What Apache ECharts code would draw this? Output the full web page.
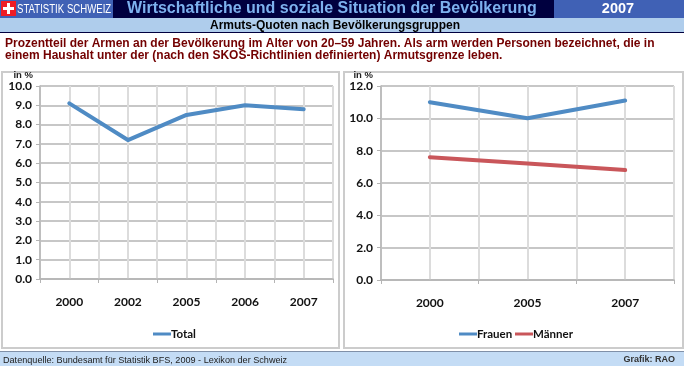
<!DOCTYPE html>
<html><head><meta charset="utf-8">
<script src="https://cdn.jsdelivr.net/npm/echarts@6/dist/echarts.min.js"></script>
<style>html,body{margin:0;padding:0;background:#fff}#c{width:684px;height:366px}</style>
</head><body><div id="c"></div>
<script>
const catsLeft = ['2000','2002','2005','2006','2007'];
const total = [9.1,7.2,8.5,9.0,8.8];
const catsRight = ['2000','2005','2007'];
const frauen = [11.0,10.0,11.1];
const maenner = [7.6,7.2,6.8];
const titleText = 'Wirtschaftliche und soziale Situation der Bevölkerung';
const subtitleText = 'Armuts-Quoten nach Bevölkerungsgruppen';
const para1 = 'Prozentteil der Armen an der Bevölkerung im Alter von 20–59 Jahren. Als arm werden Personen bezeichnet, die in';
const para2 = 'einem Haushalt unter der (nach den SKOS-Richtlinien definierten) Armutsgrenze leben.';
const sourceText = 'Datenquelle: Bundesamt für Statistik BFS, 2009 - Lexikon der Schweiz';
const creditText = 'Grafik: RAO';

const lato = 'Lato,"Open Sans",sans-serif';
const sans = '"Liberation Sans",Arial,sans-serif';
const rect=(x,y,w,h,fill,z)=>({type:'rect',silent:true,z:z||0,shape:{x,y,width:w,height:h},style:{fill}});
const frame=(x,y,w,h)=>({type:'rect',silent:true,z:0,shape:{x,y,width:w,height:h},style:{fill:'#fff',stroke:'#cccccc',lineWidth:2}});
const txt=(x,y,text,font,fill,align,scaleX)=>({type:'text',silent:true,z:5,x,y,scaleX:scaleX||1,style:{text,font,fill,align:align||'left',verticalAlign:'middle'}});

const catAxis=(gridIndex,data)=>({type:'category',gridIndex,data,boundaryGap:true,
  axisLine:{lineStyle:{color:'#b4b4b4',width:1.5}},
  axisTick:{show:true,length:4,alignWithLabel:false,lineStyle:{color:'#b4b4b4'}},
  axisLabel:{margin:17,color:'#111',fontFamily:lato,fontWeight:'bold',fontSize:12},
  splitLine:{show:false}});
const gridXAxis=(gridIndex,max)=>({type:'value',gridIndex,min:0,max,interval:1,position:'top',
  axisLine:{show:false},axisTick:{show:false},axisLabel:{show:false},
  splitLine:{show:true,lineStyle:{color:'#dcdcdc',width:2}}});
const valAxis=(gridIndex,max,interval,namePad)=>({type:'value',gridIndex,min:0,max,interval,
  name:'in %',nameLocation:'end',nameGap:3,
  nameTextStyle:{align:'right',color:'#222',fontFamily:sans,fontWeight:'bold',fontSize:9.5,padding:[0,namePad,0,0]},
  axisLine:{show:true,lineStyle:{color:'#b4b4b4',width:1.5}},
  axisTick:{show:true,length:4,lineStyle:{color:'#b4b4b4'}},
  axisLabel:{margin:8,color:'#111',fontFamily:lato,fontWeight:'bold',fontSize:12,formatter:v=>v.toFixed(1)},
  splitLine:{show:true,lineStyle:{color:'#b4b4b4',width:1.5}}});
const line=(name,data,xAxisIndex,yAxisIndex,color)=>({type:'line',name,data,xAxisIndex,yAxisIndex,
  symbol:'none',z:4,lineStyle:{color,width:4,cap:'round',join:'round'},itemStyle:{color}});
const legend=(name,left)=>({data:[name],left,top:323,orient:'horizontal',itemWidth:18,itemHeight:3,
  icon:'rect',textStyle:{color:'#111',fontFamily:lato,fontWeight:'bold',fontSize:11.5,padding:[0,0,0,-5]}});

const chart = echarts.init(document.getElementById('c'),null,{renderer:'canvas'});
chart.setOption({
  animation:false,
  backgroundColor:'#fff',
  grid:[{left:40,top:86,width:293,height:193},{left:381,top:86,width:293,height:194}],
  xAxis:[catAxis(0,catsLeft),gridXAxis(0,10),catAxis(1,catsRight),gridXAxis(1,6)],
  yAxis:[valAxis(0,10,1,7),valAxis(1,12,2,8)],
  legend:[legend('Total',148),legend('Frauen',454),legend('Männer',510)],
  series:[line('Total',total,0,0,'#4f8bc4'),line('Frauen',frauen,2,1,'#4f8bc4'),line('Männer',maenner,2,1,'#c9565a')],
  graphic:{elements:[
    rect(0,0,684,18,'#00003f'),
    rect(0,0,113,18,'#4061b5',1),
    rect(1,1,15,15,'#ee1c25',2),
    rect(7,3,3,11,'#fff',3),
    rect(3,7,11,3,'#fff',3),
    rect(554,0,130,18,'#4061b5',1),
    txt(17,9,'STATISTIK SCHWEIZ',"13px "+sans,'#fff','left',0.74),
    txt(127,9,titleText,"bold 16px "+sans,'#7db1ee'),
    txt(618,9,'2007',"bold 14.5px "+sans,'#fff','center'),
    rect(0,18,684,14,'#afcdec'),
    rect(0,32,684,1,'#00003f'),
    txt(335,26,subtitleText,"bold 12px "+sans,'#000','center'),
    txt(5,44,para1,"bold 12px "+sans,'#730000'),
    txt(5,56,para2,"bold 12px "+sans,'#730000'),
    frame(2,72,337,276),
    frame(344,72,339,276),
    rect(0,351,684,15,'#c4dcf5'),
    rect(0,351,684,1,'#8090a8'),
    txt(3,360,sourceText,"9.1px "+sans,'#222'),
    txt(675,360,creditText,"bold 9px "+sans,'#333','right')
  ]}
});
</script></body></html>
